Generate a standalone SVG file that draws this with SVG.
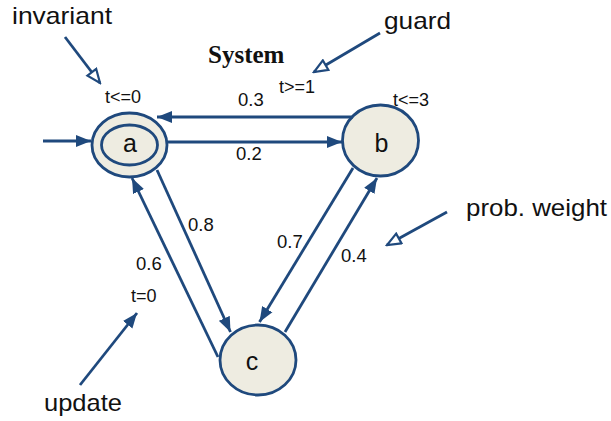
<svg xmlns="http://www.w3.org/2000/svg" width="611" height="421" viewBox="0 0 611 421">
  <style>
    .node { fill: #EEECE1; stroke: #1F497D; stroke-width: 2.8; }
    .edge { fill: none; stroke: #1F497D; stroke-width: 2.8; marker-end: url(#solid); }
    .note { fill: none; stroke: #1F497D; stroke-width: 2.8; }
    .open { marker-end: url(#hollow); }
    .fill { marker-end: url(#solid); }
    .lbl { font-family: "Liberation Sans", Arial, sans-serif; font-size: 18.5px; fill: #111111; }
    .small { font-family: "Liberation Sans", Arial, sans-serif; font-size: 18px; fill: #111111; }
    .big { font-family: "Liberation Sans", Arial, sans-serif; font-size: 24px; fill: #111111; }
    .name { font-family: "Liberation Sans", Arial, sans-serif; font-size: 25px; fill: #111111; text-anchor: middle; }
    .title { font-family: "Liberation Serif", "Times New Roman", serif; font-size: 25px; font-weight: bold; fill: #111111; }
  </style>
  <defs>
    <marker id="solid" markerUnits="userSpaceOnUse" markerWidth="16" markerHeight="13" refX="15" refY="6.5" orient="auto">
      <path d="M0,0.5 L15,6.5 L0,12.5 z" fill="#1F497D"/>
    </marker>
    <marker id="hollow" markerUnits="userSpaceOnUse" markerWidth="17" markerHeight="14" refX="15" refY="7" orient="auto">
      <path d="M1.5,1.5 L15,7 L1.5,12.5 z" fill="#FFFFFF" stroke="#1F497D" stroke-width="2.2"/>
    </marker>
  </defs>

  <text class="title" x="208" y="63">System</text>

  <!-- states -->
  <g id="node-a">
    <ellipse class="node" cx="129.5" cy="145" rx="37.5" ry="32"/>
    <ellipse class="node" cx="129.5" cy="145" rx="28" ry="20"/>
    <text class="name" x="130" y="152">a</text>
  </g>
  <g id="node-b">
    <ellipse class="node" cx="380.5" cy="140.5" rx="38" ry="35.5"/>
    <text class="name" x="381.5" y="152">b</text>
  </g>
  <g id="node-c">
    <ellipse class="node" cx="258" cy="360" rx="38" ry="35"/>
    <text class="name" x="252" y="370">c</text>
  </g>

  <!-- transitions -->
  <g id="connectors">
    <line class="edge" x1="43" y1="141" x2="91" y2="141"/>
    <line class="edge" x1="353" y1="117" x2="157" y2="117"/>
    <line class="edge" x1="167" y1="142" x2="342" y2="142"/>
    <line class="edge" x1="157" y1="170" x2="230.5" y2="332"/>
    <line class="edge" x1="218" y1="357" x2="132" y2="178"/>
    <line class="edge" x1="353" y1="168" x2="259.5" y2="322"/>
    <line class="edge" x1="285" y1="332" x2="377" y2="178"/>
  </g>

  <!-- edge labels -->
  <text class="lbl" x="238" y="106">0.3</text>
  <text class="lbl" x="236" y="160">0.2</text>
  <text class="lbl" x="188" y="231">0.8</text>
  <text class="lbl" x="277" y="248">0.7</text>
  <text class="lbl" x="341" y="262">0.4</text>
  <text class="lbl" x="136" y="270">0.6</text>
  <text class="small" x="279" y="93">t&gt;=1</text>
  <text class="small" x="105" y="103">t&lt;=0</text>
  <text class="small" x="393" y="106">t&lt;=3</text>
  <text class="small" x="131" y="302">t=0</text>

  <!-- annotations -->
  <g id="annotations">
    <line class="note open" x1="65" y1="37" x2="100" y2="83"/>
    <line class="note open" x1="380" y1="33" x2="314" y2="72"/>
    <line class="note open" x1="447" y1="212" x2="387" y2="245"/>
    <line class="note fill" x1="80" y1="385" x2="137" y2="313"/>
  </g>
  <text class="big" x="12" y="24" textLength="100" lengthAdjust="spacingAndGlyphs">invariant</text>
  <text class="big" x="384" y="29" textLength="67" lengthAdjust="spacingAndGlyphs">guard</text>
  <text class="big" x="466" y="216" textLength="141" lengthAdjust="spacingAndGlyphs">prob. weight</text>
  <text class="big" x="44" y="411" textLength="78" lengthAdjust="spacingAndGlyphs">update</text>
</svg>
